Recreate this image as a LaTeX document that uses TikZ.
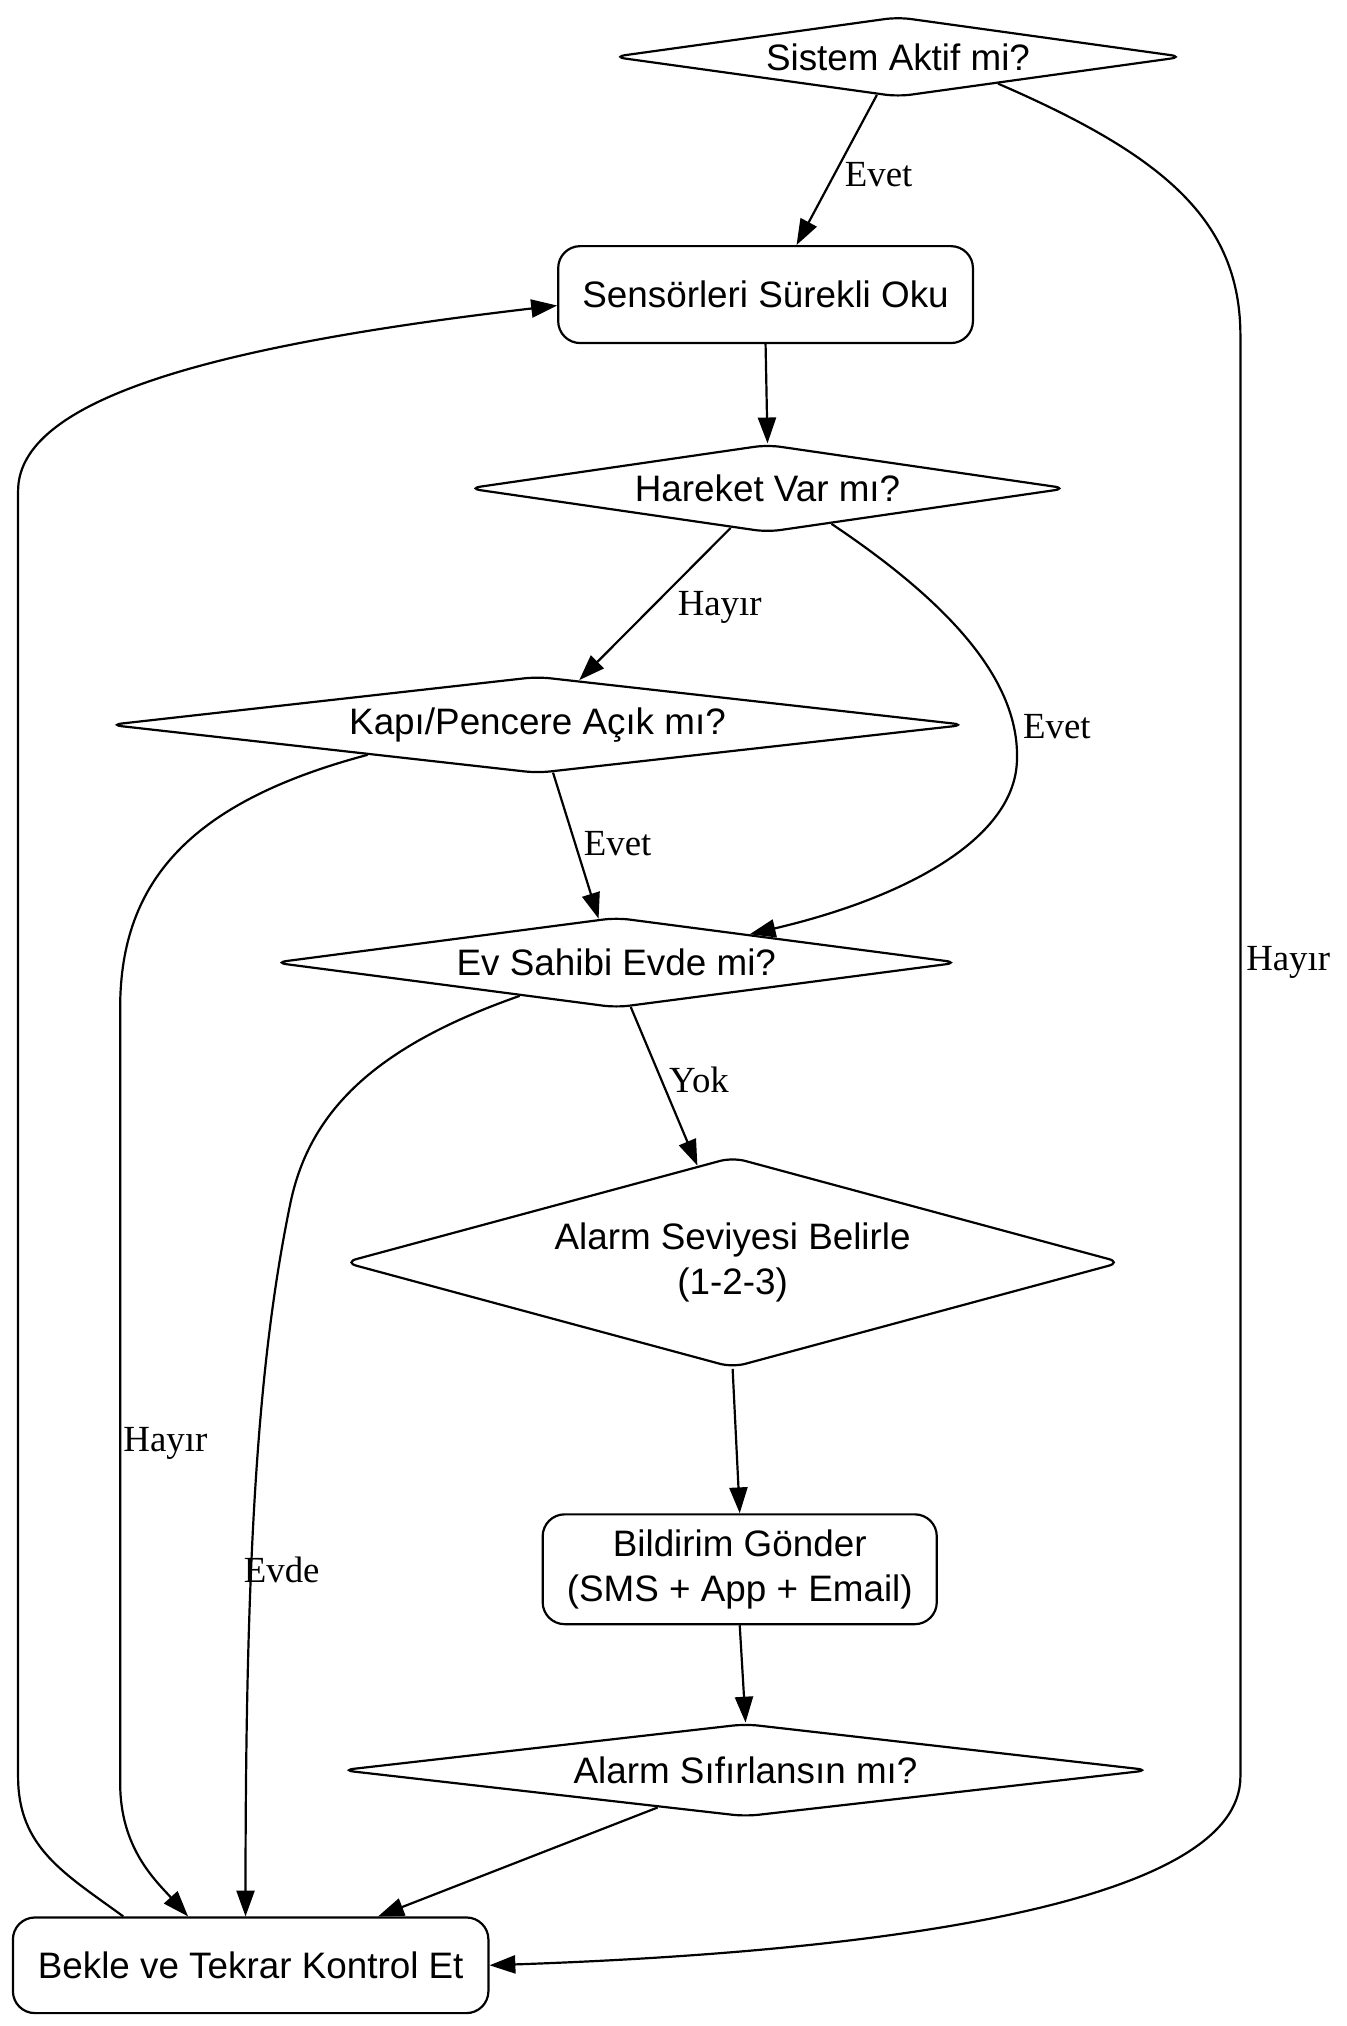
\documentclass[tikz,border=0pt]{standalone}
\usepackage{fontspec}
\setmainfont{Liberation Sans}
\newfontfamily\lblserif{Liberation Serif}
\usetikzlibrary{shapes.geometric,arrows.meta}
\newcommand{\diagnodefont}{\fontsize{28.5}{35}\selectfont}
\newcommand{\diaglblfont}{\lblserif\fontsize{28.5}{34}\selectfont}
\tikzset{
  dec/.style={draw, line width=1.7pt, shape=diamond, inner sep=0pt, rounded corners=10pt, font=\diagnodefont, align=center},
  proc/.style={draw, line width=1.7pt, rectangle, rounded corners=17pt, inner sep=0pt, font=\diagnodefont, align=center},
  conn/.style={line width=1.7pt, -{Triangle[length=20pt,width=14pt]}},
  lbl/.style={font=\diaglblfont, inner sep=0pt},
}
\begin{document}
\begin{tikzpicture}[x=1pt,y=-1pt]
\useasboundingbox (0,0) rectangle (1042,1568);
% nodes
\node[dec, aspect=7.3, minimum width=442pt, minimum height=62pt] (A) at (695,44) {Sistem Aktif mi?};
\node[proc, minimum width=321pt, minimum height=75pt] (S) at (592.5,228) {Sensörleri Sürekli Oku};
\node[dec, aspect=7, minimum width=464pt, minimum height=68pt] (H) at (594,378) {Hareket Var mı?};
\node[dec, aspect=9, minimum width=663pt, minimum height=75pt] (K) at (416,561) {Kapı/Pencere Açık mı?};
\node[dec, aspect=7.7, minimum width=530pt, minimum height=70pt] (E) at (477,745) {Ev Sahibi Evde mi?};
\node[dec, aspect=3.74, minimum width=602pt, minimum height=163pt] (L) at (567,977) {Alarm Seviyesi Belirle\\(1-2-3)};
\node[proc, minimum width=305pt, minimum height=85pt] (B) at (572.5,1214.5) {Bildirim Gönder\\(SMS + App + Email)};
\node[dec, aspect=8.9, minimum width=626pt, minimum height=72pt] (R) at (577,1370) {Alarm Sıfırlansın mı?};
\node[proc, minimum width=368pt, minimum height=74pt] (W) at (194,1521) {Bekle ve Tekrar Kontrol Et};
% connectors
\draw[conn] (A.-119) -- (S.58);
\draw[conn] (A.-15) .. controls (900,120) and (960,170) .. (960,260) -- (960,1375) .. controls (960,1470) and (700,1510) .. (W.east);
\draw[conn] (S.south) -- (H.north);
\draw[conn] (H.-133) -- (K.47);
\draw[conn] (H.-29) .. controls (740,470) and (790,530) .. (787,590) .. controls (784,650) and (700,695) .. (E.12);
\draw[conn] (K.-72) -- (E.112);
\draw[conn] (K.-170) .. controls (150,620) and (93,680) .. (93,780) -- (93,1380) .. controls (93,1430) and (120,1455) .. (W.142);
\draw[conn] (E.-72) -- (L.110);
\draw[conn] (E.-161) .. controls (290,810) and (240,860) .. (225,930) .. controls (200,1050) and (190,1200) .. (W.96);
\draw[conn] (L.south) -- (B.north);
\draw[conn] (B.south) -- (R.north);
\draw[conn] (R.-157) -- (W.21);
\draw[conn] (W.159) .. controls (50,1450) and (14,1430) .. (14,1375) -- (14,380) .. controls (14,310) and (160,268) .. (S.183);
% labels
\node[lbl] (l1) at (680,135) {Evet};
\node[lbl] (l2) at (997,745) {Hayır};
\node[lbl] (l3) at (557,470) {Hayır};
\node[lbl] (l4) at (818,562) {Evet};
\node[lbl] (l5) at (478,653) {Evet};
\node[lbl] (l6) at (541,836) {Yok};
\node[lbl] (l7) at (128,1117) {Hayır};
\node[lbl] (l8) at (218,1215) {Evde};
\end{tikzpicture}
\end{document}
